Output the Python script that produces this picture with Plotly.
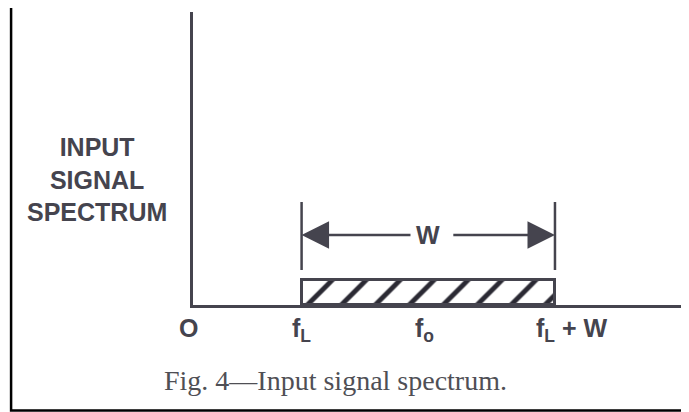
import plotly.graph_objects as go

# ---- data (schematic spectrum) ----
f_L = 3.0          # lower band edge
W = 7.0            # bandwidth
f_o = f_L + W / 2  # centre frequency
amplitude = [1.0]  # band level
tick_values = [0.0, f_L, f_o, f_L + W]
tick_labels = ["O", "f<sub>L</sub>", "f<sub>o</sub>", "f<sub>L</sub> + W"]
y_title = ["INPUT", "SIGNAL", "SPECTRUM"]
caption = "Fig. 4\u2014Input signal spectrum."

INK = "#45444e"

fig = go.Figure()

fig.add_trace(go.Bar(
    x=[f_o], y=amplitude, width=[W], base=0,
    marker=dict(
        color="white",
        line=dict(color=INK, width=3),
        pattern=dict(shape="/", size=24, solidity=0.2, fgcolor="#2a2933",
                     fgopacity=1, bgcolor="white"),
    ),
    hoverinfo="skip", showlegend=False,
))

# vertical extension lines marking the band edges
for xv in (f_L, f_L + W):
    fig.add_shape(type="line", xref="x", yref="y", x0=xv, x1=xv, y0=1.4, y1=4.12,
                  line=dict(color=INK, width=2.5))

# dimension arrows and W label
arrow_y = 2.8
fig.add_annotation(x=f_L, y=arrow_y, ax=f_L + 3.05, ay=arrow_y, xref="x", yref="y",
                   axref="x", ayref="y", text="", showarrow=True, arrowhead=2,
                   arrowsize=2.2, arrowwidth=2.5, arrowcolor=INK)
fig.add_annotation(x=f_L + W, y=arrow_y, ax=f_L + 4.15, ay=arrow_y, xref="x", yref="y",
                   axref="x", ayref="y", text="", showarrow=True, arrowhead=2,
                   arrowsize=2.2, arrowwidth=2.5, arrowcolor=INK)
fig.add_annotation(x=f_o, y=arrow_y, xref="x", yref="y", text="<b>W</b>", showarrow=False,
                   font=dict(family="Liberation Sans", size=25, color=INK))

# frequency labels under the axis
shifts = [-5, -12, -15, -21]
anchors = ["center", "left", "left", "left"]
for xv, lab, sh, an in zip(tick_values, tick_labels, shifts, anchors):
    fig.add_annotation(x=xv, y=0, xref="x", yref="y", text="<b>" + lab + "</b>",
                       showarrow=False, xanchor=an, yanchor="top", xshift=sh, yshift=-7,
                       font=dict(family="Liberation Sans", size=25, color=INK))

# y-axis title block
fig.add_annotation(x=-0.195, y=0.427, xref="paper", yref="paper",
                   text="<b>" + "<br>".join(y_title) + "</b>", showarrow=False,
                   xanchor="center", yanchor="middle", align="center",
                   font=dict(family="Liberation Sans", size=25, color=INK))

# caption
fig.add_annotation(x=0.29, y=-0.256, xref="paper", yref="paper", text=caption,
                   showarrow=False, xanchor="center", yanchor="middle",
                   font=dict(family="Liberation Serif", size=28, color="#4f4f55"))

# scanned-page frame
fig.add_shape(type="rect", xref="paper", yref="paper", x0=-0.369, x1=1.03,
              y0=-0.36, y1=1.0375, line=dict(color="black", width=2.5))

fig.update_layout(
    width=681, height=404,
    margin=dict(l=185, r=3, t=4, b=107),
    paper_bgcolor="white", plot_bgcolor="white",
    bargap=0,
    xaxis=dict(range=[0, 13.62], showline=True, linecolor=INK, linewidth=3,
               showgrid=False, zeroline=False, showticklabels=False, ticks=""),
    yaxis=dict(range=[0, 11.72], showline=True, linecolor=INK, linewidth=3,
               showgrid=False, zeroline=False, showticklabels=False, ticks=""),
)

fig.write_html("out.html")
